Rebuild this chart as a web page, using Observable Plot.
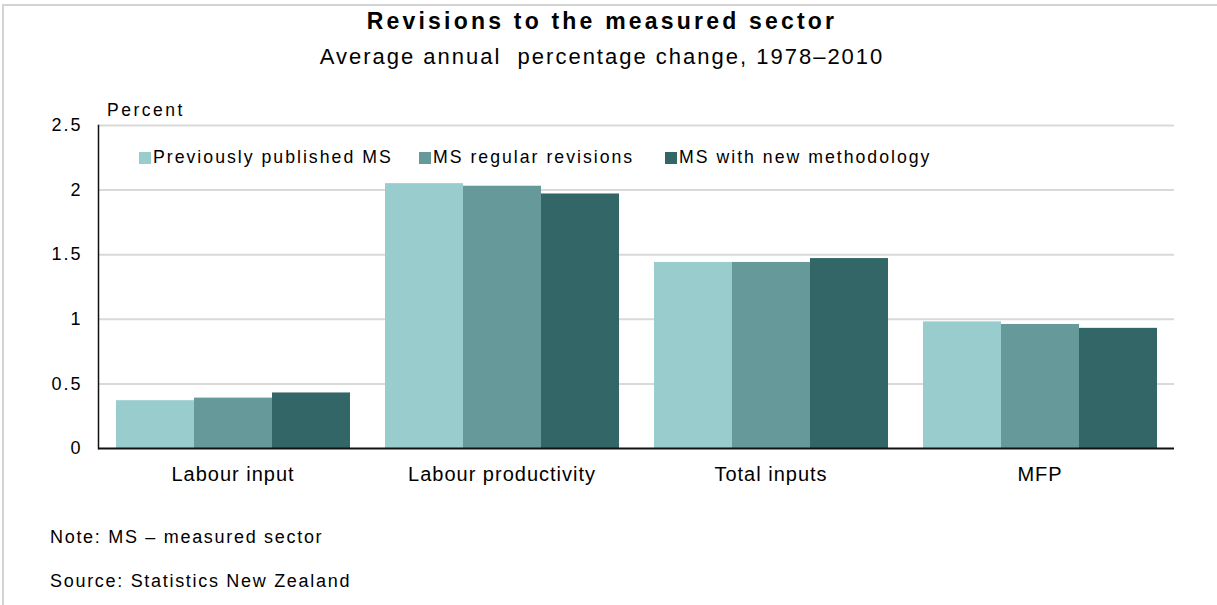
<!DOCTYPE html>
<html>
<head>
<meta charset="utf-8">
<script src="https://cdn.jsdelivr.net/npm/d3@7"></script>
<script src="https://cdn.jsdelivr.net/npm/@observablehq/plot@0.6"></script>
<style>
  html, body { margin: 0; padding: 0; background: #fff; }
  body { width: 1217px; height: 605px; position: relative; overflow: hidden;
         font-family: "Liberation Sans", Arial, sans-serif; color: #000; }
  #frame { position: absolute; left: 2px; top: 4px; width: 1215px; height: 601px;
           border-top: 2px solid #d3d3d3; border-left: 2px solid #d3d3d3; box-sizing: border-box; }
  .center { position: absolute; left: 0; width: 1204px; text-align: center; white-space: pre; }
  #title { top: 8px; font-weight: bold; font-size: 23px; letter-spacing: 3.2px; }
  #subtitle { top: 44px; font-size: 22px; letter-spacing: 2px; }
  #chart { position: absolute; left: 0; top: 95px; }
  #ylabel { position: absolute; left: 107px; top: 100px; font-size: 17.5px; letter-spacing: 2.5px; }
  .leg { position: absolute; top: 147px; font-size: 17.7px; letter-spacing: 2px; white-space: nowrap; line-height: 20px; }
  .sw { display: inline-block; width: 12px; height: 12px; margin-right: 2px; vertical-align: -1px; }
  .foot { position: absolute; left: 50px; font-size: 18px; letter-spacing: 1.7px; white-space: nowrap; }
  #chart g[aria-label="y-axis tick label"] text { letter-spacing: 2px; }
  #chart g[aria-label="fx-axis tick label"] text { letter-spacing: 1px; }
</style>
</head>
<body>
<div id="frame"></div>
<div id="title" class="center">Revisions to the measured sector</div>
<div id="subtitle" class="center">Average annual  percentage change, 1978–2010</div>
<div id="chart"></div>
<div id="ylabel">Percent</div>
<div id="legend"></div>
<div class="foot" style="top:527px">Note: MS – measured sector</div>
<div class="foot" style="top:571px">Source: Statistics New Zealand</div>
<script>
// ---- data ----
const categories = ["Labour input", "Labour productivity", "Total inputs", "MFP"];
const seriesNames = ["Previously published MS", "MS regular revisions", "MS with new methodology"];
const previouslyPublished = [0.37, 2.05, 1.44, 0.98];
const regularRevisions   = [0.39, 2.03, 1.44, 0.96];
const newMethodology     = [0.43, 1.97, 1.47, 0.93];
const seriesColors = ["#99cccc", "#669999", "#336666"];
const yTicks = [0, 0.5, 1, 1.5, 2, 2.5];
const yTickLabels = ["0", "0.5", "1", "1.5", "2", "2.5"];
const legendX = [139, 419, 665];

const seriesValues = [previouslyPublished, regularRevisions, newMethodology];
const data = [];
categories.forEach((c, i) => {
  seriesNames.forEach((s, j) => data.push({category: c, series: s, value: seriesValues[j][i]}));
});

const chart = Plot.plot({
  width: 1217,
  height: 405,
  marginTop: 30,
  marginLeft: 97,
  marginRight: 43,
  marginBottom: 52,
  style: {fontFamily: "'Liberation Sans', Arial, sans-serif", color: "#000", background: "transparent", overflow: "visible"},
  fx: {domain: categories, padding: 0, label: null},
  x: {domain: seriesNames, paddingInner: 0, paddingOuter: 0.21, axis: null},
  y: {domain: [0, 2.5], ticks: yTicks, label: null},
  color: {domain: seriesNames, range: seriesColors},
  marks: [
    Plot.ruleY(yTicks.filter(d => d > 0), {stroke: "#d9d9d9", strokeWidth: 2}),
    Plot.barY(data, {fx: "category", x: "series", y: "value", fill: "series"}),
    Plot.ruleY([0], {stroke: "#111", strokeWidth: 2}),
    Plot.frame({anchor: "left", stroke: "#111", strokeWidth: 1.5, facetAnchor: "left"}),
    Plot.axisY(yTicks, {tickSize: 0, tickPadding: 16, fontSize: 18, tickFormat: (d, i) => yTickLabels[i], label: null}),
    Plot.axisFx({anchor: "bottom", tickSize: 0, tickPadding: 18, fontSize: 20, label: null})
  ]
});
document.getElementById("chart").appendChild(chart);

const legend = document.getElementById("legend");
seriesNames.forEach((s, i) => {
  const d = document.createElement("div");
  d.className = "leg";
  d.style.left = legendX[i] + "px";
  d.innerHTML = `<span class="sw" style="background:${seriesColors[i]}"></span>${s}`;
  legend.appendChild(d);
});
</script>
</body>
</html>
